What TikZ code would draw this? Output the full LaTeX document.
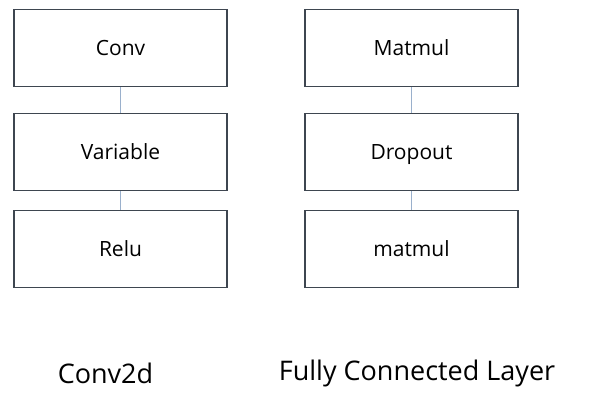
\documentclass[tikz,border=0pt]{standalone}
\usepackage{fontspec}
\setmainfont{Open Sans}
\begin{document}
\begin{tikzpicture}[x=1pt,y=-1pt,
  layerbox/.style={draw=boxgray,line width=1.3pt,minimum width=213pt,minimum height=77pt,inner sep=0pt,text height=15pt,text depth=0pt,font=\fontsize{21}{24}\selectfont},
  link/.style={draw=linkblue,line width=1pt},
  caption/.style={font=\fontsize{27}{31}\selectfont,inner sep=0pt}]
\definecolor{boxgray}{HTML}{3E4650}
\definecolor{linkblue}{HTML}{9AB0CC}
\useasboundingbox (0,0) rectangle (589,403);
\node[layerbox] (conv) at (120.5,47.7) {Conv};
\node[layerbox] (var) at (120.5,152) {Variable};
\node[layerbox] (relu) at (120.5,249) {Relu};
\node[layerbox] (mm1) at (411.5,47.7) {Matmul};
\node[layerbox] (drop) at (411.5,152) {Dropout};
\node[layerbox] (mm2) at (411.5,249) {matmul};
\draw[link] (conv) -- (var);
\draw[link] (var) -- (relu);
\draw[link] (mm1) -- (drop);
\draw[link] (drop) -- (mm2);
\node[caption] (c1) at (105.5,373) {Conv2d};
\node[caption] (c2) at (417,373) {Fully Connected Layer};
\end{tikzpicture}
\end{document}
